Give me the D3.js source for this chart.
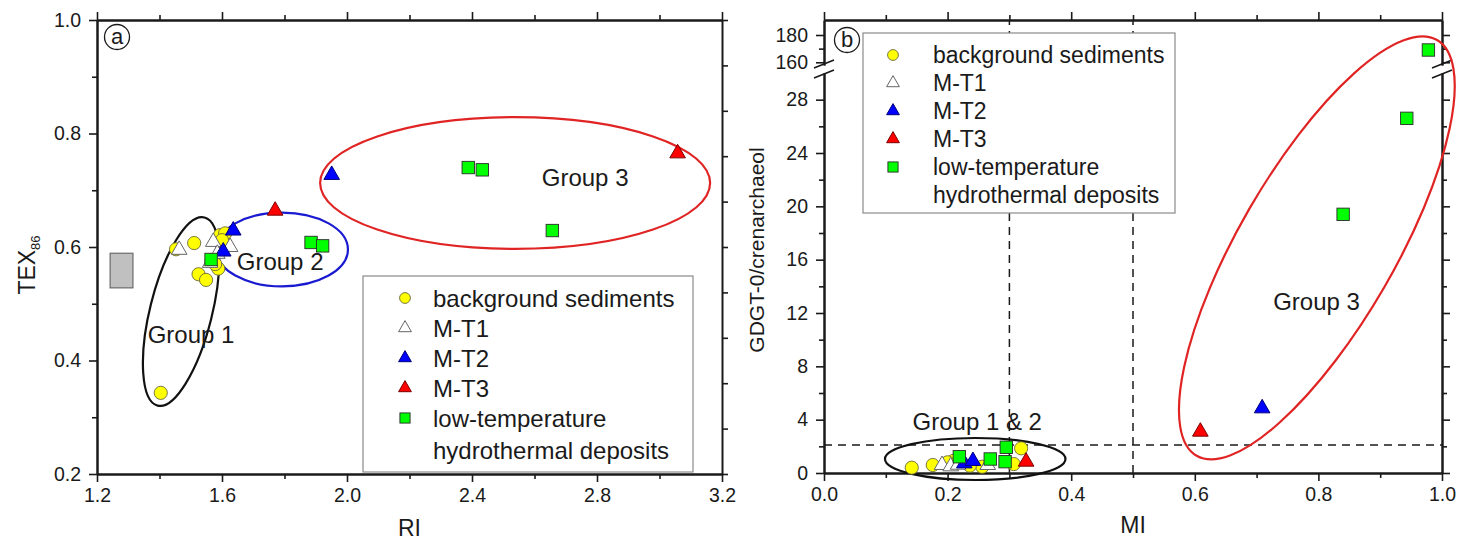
<!DOCTYPE html>
<html><head><meta charset="utf-8">
<script src="https://cdn.jsdelivr.net/npm/d3@7"></script>
<style>
body{margin:0;background:#fff}
svg{display:block}
text{font-family:"Liberation Sans",Arial,sans-serif;fill:#1a1a1a}
</style>
</head><body>
<svg id="chart" width="1458" height="549"></svg>
<script>
// ---------------- DATA ----------------
const legendLabels = ["background sediments","M-T1","M-T2","M-T3","low-temperature","hydrothermal deposits"];
const seriesTypes  = ["bg","mt1","mt2","mt3","lt"];

// Panel a : RI (x) vs TEX86 (y)
const aBackground = [[1.453,0.596],[1.511,0.607],[1.525,0.552],[1.549,0.542],[1.404,0.343],
                     [1.594,0.621],[1.610,0.624],[1.567,0.577],[1.588,0.562],[1.578,0.570],[1.600,0.612]];
const aMT1 = [[1.463,0.595],[1.572,0.609],[1.626,0.600],[1.562,0.572],[1.585,0.588]];
const aMT2 = [[1.636,0.629],[1.604,0.592],[1.951,0.727]];
const aMT3 = [[1.770,0.664],[3.058,0.765]];
const aLowT = [[1.565,0.578],[1.885,0.608],[1.922,0.602],[2.388,0.740],[2.433,0.736],[2.657,0.629]];
const aXDomain = [1.2,3.2], aYDomain = [0.2,1.0];
const aXMajor = [1.2,1.6,2.0,2.4,2.8,3.2], aXMinor = [1.4,1.8,2.2,2.6,3.0];
const aYMajor = [0.2,0.4,0.6,0.8,1.0], aYMinor = [0.3,0.5,0.7,0.9];
const aRightDomain = [0,10], aRightTicks = [0,1,2,3,4,5,6,7,8,9,10];
const aGrayBox = {x0:1.242, x1:1.315, y0:0.528, y1:0.589};
const aEllipses = [
  {kind:"rot", p1:[1.544,0.652], p2:[1.394,0.3205], ratio:0.32, color:"#111111"},
  {kind:"axis", c:[1.792,0.5956], rx:0.211, ry:0.065, color:"#1a1ad0"},
  {kind:"axis", c:[2.538,0.7128], rx:0.624, ry:0.116, color:"#e02424"}
];
const aGroupLabels = [["Group 1",1.501,0.431],["Group 2",1.786,0.5595],["Group 3",2.762,0.7075]];

// Panel b : MI (x) vs GDGT-0/crenarchaeol (y), broken y axis
const bBackground = [[0.142,0.40],[0.176,0.60],[0.210,0.92],[0.256,0.47],[0.307,0.67],[0.319,1.85],[0.200,0.80],[0.236,0.55]];
const bMT1 = [[0.191,0.60],[0.205,0.50],[0.217,0.62],[0.265,0.60]];
const bMT2 = [[0.227,0.72],[0.241,0.90],[0.709,4.85]];
const bMT3 = [[0.327,0.85],[0.609,3.10]];
const bLowT = [[0.219,1.22],[0.269,1.05],[0.295,1.93],[0.293,0.85],[0.840,19.4],[0.943,26.6],[0.978,169]];
const bXDomain = [0,1.0];
const bYLowDomain = [0,30], bYUpDomain = [158,191];
const bXMajor = [0,0.2,0.4,0.6,0.8,1.0], bXMinor = [0.1,0.3,0.5,0.7,0.9];
const bYLowMajor = [0,4,8,12,16,20,24,28], bYLowMinor = [2,6,10,14,18,22,26];
const bYUpMajor = [160,180], bYUpMinor = [170];
const bHLine = 2.1, bVLines = [0.3,0.5];
const bEllipses = [
  {kind:"rot", p1:[0.992,32.47], p2:[0.603,1.29], ratio:0.325, color:"#e02424"},
  {kind:"axis", c:[0.2447,1.05], rx:0.146, ry:1.575, color:"#111111"}
];
const bGroupLabels = [["Group 1 & 2",0.248,3.23],["Group 3",0.797,12.23]];

// ---------------- LAYOUT ----------------
const svg = d3.select("#chart");
const A = {l:97, r:722, t:20, b:474};
const B = {l:824, r:1442, t:20, b:473, upB:65, lowT:73};
const axisColor = "#1a1a1a";

const ax = d3.scaleLinear().domain(aXDomain).range([A.l,A.r]);
const ay = d3.scaleLinear().domain(aYDomain).range([A.b,A.t]);
const ay2 = d3.scaleLinear().domain(aRightDomain).range([A.b,A.t]);
const bx = d3.scaleLinear().domain(bXDomain).range([B.l,B.r]);
const byLow = d3.scaleLinear().domain(bYLowDomain).range([B.b,B.lowT]);
const byUp = d3.scaleLinear().domain(bYUpDomain).range([B.upB,B.t]);
const by = v => v > 100 ? byUp(v) : byLow(v);

function styleAxis(g, fs){
  g.select(".domain").attr("stroke",axisColor).attr("stroke-width",2);
  g.selectAll(".tick line").attr("stroke",axisColor).attr("stroke-width",1.6);
  g.selectAll(".tick text").attr("font-size",fs||"19.5px").attr("fill","#1a1a1a")
    .style("font-family","'Liberation Sans',Arial,sans-serif");
}
function addAxis(gen, tx, ty){
  const g = svg.append("g").attr("transform",`translate(${tx},${ty})`).call(gen);
  styleAxis(g); return g;
}

// ---------------- PANEL A ----------------
const f1 = d3.format(".1f");
addAxis(d3.axisBottom(ax).tickValues(aXMinor).tickSize(5).tickSizeOuter(0).tickFormat(""),0,A.b);
addAxis(d3.axisBottom(ax).tickValues(aXMajor).tickSize(8).tickSizeOuter(0).tickPadding(6).tickFormat(f1),0,A.b);
addAxis(d3.axisTop(ax).tickValues(aXMinor).tickSize(5).tickSizeOuter(0).tickFormat(""),0,A.t);
addAxis(d3.axisTop(ax).tickValues(aXMajor).tickSize(8).tickSizeOuter(0).tickFormat(""),0,A.t);
addAxis(d3.axisLeft(ay).tickValues(aYMinor).tickSize(5).tickSizeOuter(0).tickFormat(""),A.l,0);
addAxis(d3.axisLeft(ay).tickValues(aYMajor).tickSize(8).tickSizeOuter(0).tickPadding(8).tickFormat(f1),A.l,0);
addAxis(d3.axisRight(ay2).tickValues(aRightTicks).tickSize(6).tickSizeOuter(0).tickFormat(""),A.r,0);

// gray box
svg.append("rect").attr("x",ax(aGrayBox.x0)).attr("y",ay(aGrayBox.y1))
  .attr("width",ax(aGrayBox.x1)-ax(aGrayBox.x0)).attr("height",ay(aGrayBox.y0)-ay(aGrayBox.y1))
  .attr("fill","#c0c0c0").attr("stroke","#6a6a6a").attr("stroke-width",1.2);

function drawEllipses(list, xs, ys){
  list.forEach(e=>{
    if(e.kind==="rot"){
      const x1=xs(e.p1[0]), y1=ys(e.p1[1]), x2=xs(e.p2[0]), y2=ys(e.p2[1]);
      const cx=(x1+x2)/2, cy=(y1+y2)/2, a=Math.hypot(x2-x1,y2-y1)/2;
      const ang=Math.atan2(y2-y1,x2-x1)*180/Math.PI;
      svg.append("ellipse").attr("cx",cx).attr("cy",cy).attr("rx",a).attr("ry",a*e.ratio)
        .attr("transform",`rotate(${ang},${cx},${cy})`)
        .attr("fill","none").attr("stroke",e.color).attr("stroke-width",2.2);
    } else {
      const cx=xs(e.c[0]), cy=ys(e.c[1]);
      svg.append("ellipse").attr("cx",cx).attr("cy",cy)
        .attr("rx",Math.abs(xs(e.c[0]+e.rx)-cx)).attr("ry",Math.abs(ys(e.c[1]+e.ry)-cy))
        .attr("fill","none").attr("stroke",e.color).attr("stroke-width",2.2);
    }
  });
}
drawEllipses(aEllipses, ax, ay);

const markerStyle = {
  bg:{fill:"#ffff00",stroke:"#6a6a3a"},
  mt1:{fill:"#ffffff",stroke:"#666666"},
  mt2:{fill:"#0000ff",stroke:"#00007a"},
  mt3:{fill:"#ff0000",stroke:"#7a0000"},
  lt:{fill:"#00ff00",stroke:"#2a2a2a"}
};
function marker(type, x, y, s){
  const st = markerStyle[type];
  if(type==="bg"){
    svg.append("circle").attr("cx",x).attr("cy",y).attr("r",6.6*s)
      .attr("fill",st.fill).attr("stroke",st.stroke).attr("stroke-width",0.9);
  } else if(type==="lt"){
    const h=6.2*s;
    svg.append("rect").attr("x",x-h).attr("y",y-h).attr("width",2*h).attr("height",2*h)
      .attr("fill",st.fill).attr("stroke",st.stroke).attr("stroke-width",0.9);
  } else {
    const w=7.8*s, hh=13.5*s;
    const p=`M${x},${y-hh*2/3}L${x+w},${y+hh/3}L${x-w},${y+hh/3}Z`;
    svg.append("path").attr("d",p).attr("fill",st.fill).attr("stroke",st.stroke).attr("stroke-width",1);
  }
}
function drawSeries(sets, xs, ys){
  sets.forEach((pts,i)=>pts.forEach(d=>marker(seriesTypes[i], xs(d[0]), ys(d[1]), 1)));
}
drawSeries([aBackground,aMT1,aMT2,aMT3,aLowT], ax, ay);

function groupLabels(list, xs, ys){
  list.forEach(d=>svg.append("text").attr("x",xs(d[1])).attr("y",ys(d[2]))
    .attr("text-anchor","middle").attr("font-size","24px").text(d[0]));
}
groupLabels(aGroupLabels, ax, ay);

function legend(x0,y0,w,h,symX,textX,rows,fs){
  svg.append("rect").attr("x",x0).attr("y",y0).attr("width",w).attr("height",h)
    .attr("fill","#fff").attr("stroke","#8a8a8a").attr("stroke-width",1.2);
  legendLabels.forEach((lab,i)=>{
    if(i<seriesTypes.length) marker(seriesTypes[i], symX, rows[i], 0.82);
    svg.append("text").attr("x",textX).attr("y",rows[i]+fs*0.36).attr("font-size",fs+"px").text(lab);
  });
}
legend(363,276,330,196,405,433,[298,328,358,388,418,450],24);

// panel label
function panelLabel(cx,cy,t){
  svg.append("circle").attr("cx",cx).attr("cy",cy).attr("r",12.5).attr("fill","#fff")
    .attr("stroke","#1a1a1a").attr("stroke-width",1.3);
  svg.append("text").attr("x",cx).attr("y",cy+7).attr("text-anchor","middle").attr("font-size","22px").text(t);
}
panelLabel(A.l+20,A.t+17,"a");

// axis titles A
svg.append("text").attr("x",(A.l+A.r)/2).attr("y",536).attr("text-anchor","middle").attr("font-size","23px").text("RI");
const tex = svg.append("text").attr("transform","translate(35,265) rotate(-90)").attr("text-anchor","middle").attr("font-size","23px");
tex.append("tspan").text("TEX");
tex.append("tspan").attr("font-size","13px").attr("dy","5").text("86");

// ---------------- PANEL B ----------------
const fb = d3.format(".1f");
// dashed reference lines
svg.append("line").attr("x1",B.l).attr("x2",B.r).attr("y1",by(bHLine)).attr("y2",by(bHLine))
  .attr("stroke","#1a1a1a").attr("stroke-width",1.5).attr("stroke-dasharray","8,6");
bVLines.forEach(v=>svg.append("line").attr("x1",bx(v)).attr("x2",bx(v)).attr("y1",B.b).attr("y2",B.t)
  .attr("stroke","#1a1a1a").attr("stroke-width",1.5).attr("stroke-dasharray","8,6"));

addAxis(d3.axisBottom(bx).tickValues(bXMinor).tickSize(5).tickSizeOuter(0).tickFormat(""),0,B.b);
addAxis(d3.axisBottom(bx).tickValues(bXMajor).tickSize(8).tickSizeOuter(0).tickPadding(6).tickFormat(fb),0,B.b);
addAxis(d3.axisTop(bx).tickValues(bXMinor).tickSize(5).tickSizeOuter(0).tickFormat(""),0,B.t);
addAxis(d3.axisTop(bx).tickValues(bXMajor).tickSize(8).tickSizeOuter(0).tickFormat(""),0,B.t);
const fd = d3.format("d");
[[bYLowMinor,5,""],[bYLowMajor,8,fd]].forEach(([tv,ts,ff])=>{
  addAxis(d3.axisLeft(byLow).tickValues(tv).tickSize(ts).tickSizeOuter(0).tickPadding(8).tickFormat(ff===""?"":ff),B.l,0);
  addAxis(d3.axisRight(byLow).tickValues(tv).tickSize(ts).tickSizeOuter(0).tickFormat(""),B.r,0);
});
[[bYUpMinor,5,""],[bYUpMajor,8,fd]].forEach(([tv,ts,ff])=>{
  addAxis(d3.axisLeft(byUp).tickValues(tv).tickSize(ts).tickSizeOuter(0).tickPadding(8).tickFormat(ff===""?"":ff),B.l,0);
  addAxis(d3.axisRight(byUp).tickValues(tv).tickSize(ts).tickSizeOuter(0).tickFormat(""),B.r,0);
});
// break marks
[B.l,B.r].forEach(x=>{
  [B.upB-1,B.lowT+1].forEach(y=>{
    svg.append("line").attr("x1",x-10).attr("y1",y+4).attr("x2",x+10).attr("y2",y-4)
      .attr("stroke","#1a1a1a").attr("stroke-width",1.6);
  });
});

drawEllipses(bEllipses, bx, byLow);
drawSeries([bBackground,bMT1,bMT2,bMT3,bLowT], bx, by);
groupLabels(bGroupLabels, bx, byLow);
legend(863,33,312,180,893,933,[55,83,111,139,167,195],23);
panelLabel(B.l+23,B.t+20,"b");

svg.append("text").attr("x",(B.l+B.r)/2).attr("y",533).attr("text-anchor","middle").attr("font-size","23px").text("MI");
svg.append("text").attr("transform","translate(764,250) rotate(-90)").attr("text-anchor","middle")
  .attr("font-size","21px").text("GDGT-0/crenarchaeol");
</script>
</body></html>
